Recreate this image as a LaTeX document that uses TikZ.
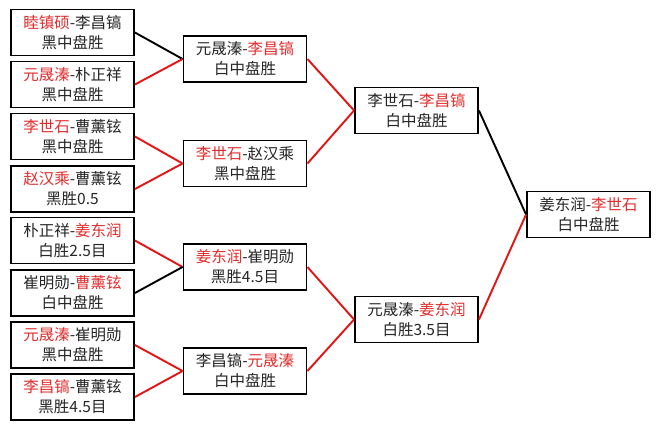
\documentclass[tikz,border=0pt]{standalone}
\usepackage{fontspec}
\setmainfont{Noto Sans CJK SC}
\definecolor{myred}{RGB}{228,20,20}
\definecolor{txtred}{RGB}{225,45,45}
\newcommand{\rd}[1]{\textcolor{txtred}{#1}}
\begin{document}
\begin{tikzpicture}[x=1pt,y=-1pt,
  game/.style={draw=black, line width=1.9pt, fill=white, minimum width=123pt, minimum height=46pt,
    align=center, inner sep=0pt, font=\fontsize{15.5}{20}\selectfont, text=black!85},
  win/.style={draw=myred, line width=1.9pt},
  lose/.style={draw=black, line width=1.9pt}]
\fill[white] (0,0) rectangle (660,429);
\useasboundingbox (0,0) rectangle (660,429);
% column 1
\node[game] (a1) at (72.5,32.5) {\rd{睦镇硕}-李昌镐\\黑中盘胜};
\node[game] (a2) at (72.5,84.5) {\rd{元晟溱}-朴正祥\\黑中盘胜};
\node[game] (a3) at (72.5,136.5) {\rd{李世石}-曹薰铉\\黑中盘胜};
\node[game] (a4) at (72.5,189) {\rd{赵汉乘}-曹薰铉\\黑胜0.5};
\node[game] (a5) at (72.5,240.5) {朴正祥-\rd{姜东润}\\白胜2.5目};
\node[game] (a6) at (72.5,293) {崔明勋-\rd{曹薰铉}\\白中盘胜};
\node[game] (a7) at (72.5,345) {\rd{元晟溱}-崔明勋\\黑中盘胜};
\node[game] (a8) at (72.5,397) {\rd{李昌镐}-曹薰铉\\黑胜4.5目};
% column 2
\node[game] (b1) at (245,59) {元晟溱-\rd{李昌镐}\\白中盘胜};
\node[game] (b2) at (245,163.5) {\rd{李世石}-赵汉乘\\黑中盘胜};
\node[game] (b3) at (245,267) {\rd{姜东润}-崔明勋\\黑胜4.5目};
\node[game] (b4) at (245,371) {李昌镐-\rd{元晟溱}\\白中盘胜};
% column 3
\node[game] (c1) at (416.5,110.5) {李世石-\rd{李昌镐}\\白中盘胜};
\node[game] (c2) at (416.5,319.5) {元晟溱-\rd{姜东润}\\白胜3.5目};
% column 4
\node[game] (d1) at (588.5,214.5) {姜东润-\rd{李世石}\\白中盘胜};
% connectors
\draw[lose] (a1.east) -- (b1.west);
\draw[win] (a2.east) -- (b1.west);
\draw[win] (a3.east) -- (b2.west);
\draw[win] (a4.east) -- (b2.west);
\draw[win] (a5.east) -- (b3.west);
\draw[lose] (a6.east) -- (b3.west);
\draw[win] (a7.east) -- (b4.west);
\draw[win] (a8.east) -- (b4.west);
\draw[win] (b1.east) -- (c1.west);
\draw[win] (b2.east) -- (c1.west);
\draw[win] (b3.east) -- (c2.west);
\draw[win] (b4.east) -- (c2.west);
\draw[lose] (c1.east) -- (d1.west);
\draw[win] (c2.east) -- (d1.west);
\end{tikzpicture}
\end{document}
